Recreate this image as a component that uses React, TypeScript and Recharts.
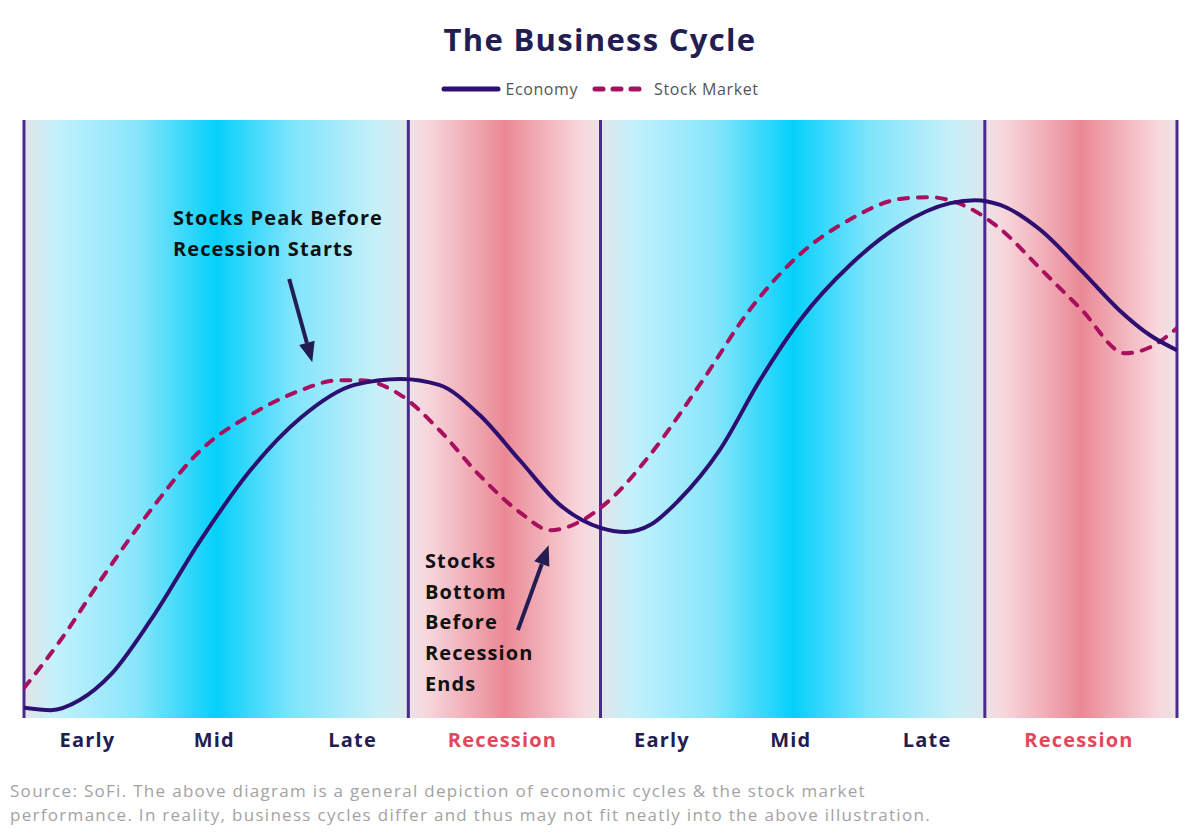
import {
  ComposedChart,
  Line,
  XAxis,
  YAxis,
  ReferenceArea,
  ReferenceLine,
} from "recharts";

// time axis: each expansion spans 20 units, each recession 10 units
const economyX = [0, 1.4, 2.9, 4.5, 6.6, 9.2, 11.8, 14.4, 17.2, 19.6, 21.6, 23.7, 25.8, 27.9, 30.0, 31.3, 32.6, 34.1, 36.2, 38.3, 40.4, 43.0, 45.6, 48.2, 49.5, 50.8, 52.9, 55.0, 57.0, 58.6, 60];
const economyY = [1.7, 1.3, 3.0, 7.2, 16.4, 29.8, 41.5, 50.2, 55.7, 56.7, 55.7, 50.7, 43.1, 35.6, 31.8, 31.1, 32.3, 36.5, 44.8, 56.5, 66.6, 75.8, 82.4, 86.1, 86.6, 85.8, 81.6, 74.9, 68.2, 64.0, 61.5];

const stockX = [0, 1.9, 4.0, 6.6, 9.2, 11.8, 14.4, 16.4, 17.5, 19.6, 21.6, 23.7, 25.8, 27.4, 28.9, 30.5, 32.6, 35.2, 37.8, 40.4, 43.0, 45.6, 47.1, 48.7, 50.8, 52.9, 55.0, 57.3, 58.6, 60];
const stockY = [5.0, 13.0, 23.1, 34.8, 44.8, 50.7, 54.8, 56.5, 56.5, 54.0, 48.2, 40.6, 34.4, 31.4, 32.8, 36.5, 44.1, 55.9, 68.4, 77.6, 83.4, 86.8, 87.1, 86.0, 81.8, 75.1, 68.4, 61.0, 62.0, 65.2];

const phaseStart = [0, 20, 30, 50];
const phaseEnd = [20, 30, 50, 60];
const phaseKind = ["expansion", "recession", "expansion", "recession"];
const boundaries = [0, 20, 30, 50, 60];

const tickX = [3.3, 9.9, 17.1, 24.9, 33.2, 39.9, 47.0, 54.9];
const tickLabels = ["Early", "Mid", "Late", "Recession", "Early", "Mid", "Late", "Recession"];

const economyData = economyX.map((x, i) => ({ x, value: economyY[i] }));
const stockData = stockX.map((x, i) => ({ x, value: stockY[i] }));

const FONT = "'Open Sans', sans-serif";
const NAVY = "#241d52";
const ECON = "#2d0f72";
const STOCK = "#a8105f";
const RED = "#e2475c";

const Arrow = (props: any) => {
  const { x1, y1, x2, y2 } = props;
  const dx = x2 - x1;
  const dy = y2 - y1;
  const len = Math.sqrt(dx * dx + dy * dy);
  const ux = dx / len;
  const uy = dy / len;
  const head = 20;
  const bx = x2 - ux * head;
  const by = y2 - uy * head;
  const px = -uy * 8;
  const py = ux * 8;
  return (
    <g>
      <line x1={x1} y1={y1} x2={bx} y2={by} stroke={NAVY} strokeWidth={4} />
      <polygon
        points={`${x2},${y2} ${bx + px},${by + py} ${bx - px},${by - py}`}
        fill={NAVY}
      />
    </g>
  );
};

const PhaseTick = (props: any) => {
  const { x, y, payload, index } = props;
  const label = tickLabels[index] ?? "";
  const isRec = label === "Recession";
  return (
    <text
      x={x}
      y={y + 21}
      textAnchor="middle"
      fontFamily={FONT}
      fontWeight={700}
      fontSize={20}
      letterSpacing="1.2px"
      fill={isRec ? RED : NAVY}
    >
      {label || payload.value}
    </text>
  );
};

const annotationStyle = {
  position: "absolute" as const,
  fontFamily: FONT,
  fontWeight: 700,
  fontSize: 20,
  color: "#111",
  lineHeight: "30.7px",
  letterSpacing: "1.1px",
};

export default function App() {
  return (
    <div
      style={{
        position: "absolute",
        left: 0,
        top: 0,
        width: 1200,
        height: 834,
        background: "#fff",
        fontFamily: FONT,
      }}
    >
      <div
        style={{
          position: "absolute",
          top: 18,
          left: 0,
          width: 1200,
          textAlign: "center",
          fontSize: 31,
          fontWeight: 700,
          color: NAVY,
          letterSpacing: "1.3px",
        }}
      >
        The Business Cycle
      </div>

      <div
        style={{
          position: "absolute",
          top: 78,
          left: 0,
          width: 1200,
          display: "flex",
          justifyContent: "center",
          alignItems: "center",
          fontSize: 16,
          color: "#555",
          letterSpacing: "0.6px",
        }}
      >
        <svg width={60} height={10} style={{ marginRight: 4 }}>
          <line x1={3} y1={5} x2={57} y2={5} stroke={ECON} strokeWidth={5} strokeLinecap="round" />
        </svg>
        <span style={{ marginRight: 14 }}>Economy</span>
        <svg width={52} height={10} style={{ marginRight: 10 }}>
          <line x1={3} y1={5} x2={49} y2={5} stroke={STOCK} strokeWidth={5} strokeLinecap="round" strokeDasharray="8 10" />
        </svg>
        <span>Stock Market</span>
      </div>

      <div style={{ position: "absolute", left: 0, top: 0 }}>
        <ComposedChart
          width={1200}
          height={834}
          margin={{ top: 120, right: 23, bottom: 76, left: 24 }}
        >
          <defs>
            <linearGradient id="blueBand" x1="0" x2="1" y1="0" y2="0">
              <stop offset="0%" stopColor="#e2e4e7" />
              <stop offset="8%" stopColor="#c4f1fb" />
              <stop offset="30%" stopColor="#86e5fb" />
              <stop offset="50%" stopColor="#05d0fa" />
              <stop offset="70%" stopColor="#80e4fb" />
              <stop offset="92%" stopColor="#c8f0f9" />
              <stop offset="100%" stopColor="#dce8ec" />
            </linearGradient>
            <linearGradient id="redBand" x1="0" x2="1" y1="0" y2="0">
              <stop offset="0%" stopColor="#ebe3e5" />
              <stop offset="10%" stopColor="#f8d6dc" />
              <stop offset="50%" stopColor="#ea8995" />
              <stop offset="90%" stopColor="#f8d7dc" />
              <stop offset="100%" stopColor="#ebe3e5" />
            </linearGradient>
          </defs>
          <XAxis
            type="number"
            dataKey="x"
            domain={[0, 60]}
            ticks={tickX}
            tick={<PhaseTick />}
            axisLine={false}
            tickLine={false}
            height={40}
            interval={0}
            allowDataOverflow
          />
          <YAxis type="number" domain={[0, 100]} hide allowDataOverflow />
          {phaseStart.map((s, i) => (
            <ReferenceArea
              key={`band-${i}`}
              x1={s}
              x2={phaseEnd[i]}
              y1={0}
              y2={100}
              fill={phaseKind[i] === "expansion" ? "url(#blueBand)" : "url(#redBand)"}
              fillOpacity={1}
              stroke="none"
              ifOverflow="hidden"
            />
          ))}
          {boundaries.map((b) => (
            <ReferenceLine
              key={`b-${b}`}
              x={b}
              stroke="#4a2a8c"
              strokeWidth={3}
            />
          ))}
          <Line
            data={stockData}
            dataKey="value"
            type="monotone"
            stroke={STOCK}
            strokeWidth={4}
            strokeDasharray="9 10"
            strokeLinecap="round"
            dot={false}
            activeDot={false}
            isAnimationActive={false}
          />
          <Line
            data={economyData}
            dataKey="value"
            type="monotone"
            stroke={ECON}
            strokeWidth={4}
            dot={false}
            activeDot={false}
            isAnimationActive={false}
          />
          <ReferenceLine
            segment={[
              { x: 13.8, y: 73.4 },
              { x: 15.0, y: 59.5 },
            ]}
            shape={<Arrow />}
          />
          <ReferenceLine
            segment={[
              { x: 25.7, y: 14.7 },
              { x: 27.3, y: 28.9 },
            ]}
            shape={<Arrow />}
          />
        </ComposedChart>
      </div>

      <div style={{ ...annotationStyle, left: 173, top: 203 }}>
        Stocks Peak Before
        <br />
        Recession Starts
      </div>
      <div style={{ ...annotationStyle, left: 425, top: 546 }}>
        Stocks
        <br />
        Bottom
        <br />
        Before
        <br />
        Recession
        <br />
        Ends
      </div>

      <div
        style={{
          position: "absolute",
          left: 10,
          top: 779,
          width: 1150,
          fontSize: 17,
          lineHeight: "24px",
          color: "#a3a3a3",
          letterSpacing: "1.3px",
        }}
      >
        Source: SoFi. The above diagram is a general depiction of economic cycles &amp; the stock market
        <br />
        performance. In reality, business cycles differ and thus may not fit neatly into the above illustration.
      </div>
    </div>
  );
}
